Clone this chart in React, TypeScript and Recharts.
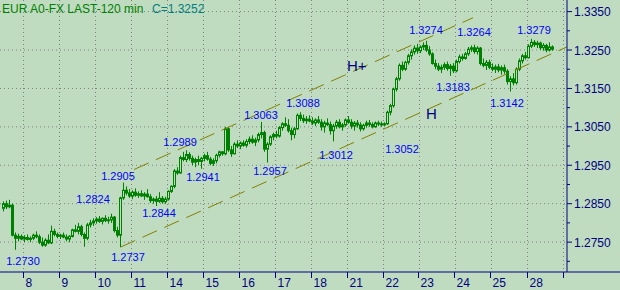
import React from "react";
import { ComposedChart, Bar, XAxis, YAxis, CartesianGrid, ReferenceLine, ReferenceDot } from "recharts";

// EUR 120-minute bars (7 bars before day 8, then 12 per day)
const OPEN = [
  1.2838, 1.2850, 1.2842, 1.2846, 1.2768, 1.2760, 1.2765,
  1.2758, 1.2762, 1.2757, 1.2760, 1.2768, 1.2764, 1.2750, 1.2742, 1.2755, 1.2748, 1.2778, 1.2770,
  1.2765, 1.2768, 1.2763, 1.2758, 1.2765, 1.2782, 1.2778, 1.2790, 1.2770, 1.2760, 1.2795, 1.2800,
  1.2805, 1.2810, 1.2804, 1.2812, 1.2806, 1.2808, 1.2815, 1.2780, 1.2768, 1.2865, 1.2885, 1.2878,
  1.2870, 1.2880, 1.2872, 1.2876, 1.2870, 1.2875, 1.2868, 1.2858, 1.2862, 1.2856, 1.2864, 1.2855,
  1.2862, 1.2882, 1.2895, 1.2935, 1.2930, 1.2970, 1.2965, 1.2978, 1.2968, 1.2958, 1.2965, 1.2960,
  1.2968, 1.2975, 1.2966, 1.2955, 1.2962, 1.2976, 1.2985, 1.2980, 1.3045, 1.2990, 1.2980, 1.3005,
  1.3000, 1.3008, 1.3002, 1.3012, 1.3018, 1.3010, 1.3016, 1.3030, 1.3035, 1.2992, 1.3005, 1.3024,
  1.3030, 1.3026, 1.3048, 1.3058, 1.3054, 1.3040, 1.3030, 1.3045, 1.3080, 1.3072, 1.3066, 1.3070,
  1.3065, 1.3060, 1.3068, 1.3062, 1.3050, 1.3060, 1.3056, 1.3040, 1.3052, 1.3062, 1.3050, 1.3055,
  1.3068, 1.3062, 1.3052, 1.3060, 1.3055, 1.3045, 1.3054, 1.3060, 1.3056, 1.3050, 1.3060, 1.3058,
  1.3055, 1.3058, 1.3088, 1.3105, 1.3148, 1.3175, 1.3210, 1.3200, 1.3218, 1.3235, 1.3245, 1.3255,
  1.3248, 1.3258, 1.3262, 1.3250, 1.3240, 1.3215, 1.3208, 1.3200, 1.3205, 1.3212, 1.3202, 1.3208,
  1.3196, 1.3220, 1.3232, 1.3228, 1.3240, 1.3252, 1.3256, 1.3246, 1.3255, 1.3215, 1.3210, 1.3218,
  1.3205, 1.3200, 1.3206, 1.3198, 1.3204, 1.3195, 1.3168, 1.3175, 1.3165, 1.3200, 1.3222, 1.3235,
  1.3230, 1.3260, 1.3270, 1.3264, 1.3268, 1.3256, 1.3262, 1.3250, 1.3258,
];
const HIGH = [
  1.2856, 1.2858, 1.2860, 1.2850, 1.2775, 1.2772, 1.2770,
  1.2768, 1.2770, 1.2765, 1.2772, 1.2778, 1.2770, 1.2762, 1.2760, 1.2770, 1.2793, 1.2785, 1.2775,
  1.2772, 1.2775, 1.2770, 1.2768, 1.2785, 1.2795, 1.2800, 1.2795, 1.2775, 1.2800, 1.2808, 1.2812,
  1.2815, 1.2818, 1.2814, 1.2820, 1.2816, 1.2824, 1.2818, 1.2790, 1.2868, 1.2905, 1.2895, 1.2888,
  1.2885, 1.2890, 1.2882, 1.2885, 1.2880, 1.2888, 1.2875, 1.2866, 1.2870, 1.2880, 1.2870, 1.2868,
  1.2885, 1.2898, 1.2940, 1.2945, 1.2975, 1.2985, 1.2989, 1.2984, 1.2975, 1.2970, 1.2975, 1.2972,
  1.2980, 1.2985, 1.2972, 1.2968, 1.2980, 1.2988, 1.2987, 1.3050, 1.3048, 1.3000, 1.3010, 1.3015,
  1.3012, 1.3015, 1.3018, 1.3025, 1.3028, 1.3022, 1.3035, 1.3063, 1.3040, 1.3010, 1.3028, 1.3035,
  1.3040, 1.3052, 1.3062, 1.3075, 1.3070, 1.3048, 1.3050, 1.3085, 1.3088, 1.3082, 1.3078, 1.3080,
  1.3075, 1.3072, 1.3078, 1.3070, 1.3066, 1.3072, 1.3064, 1.3058, 1.3068, 1.3070, 1.3060, 1.3072,
  1.3078, 1.3070, 1.3065, 1.3068, 1.3062, 1.3058, 1.3066, 1.3068, 1.3062, 1.3064, 1.3066, 1.3064,
  1.3062, 1.3092, 1.3110, 1.3152, 1.3180, 1.3215, 1.3220, 1.3222, 1.3240, 1.3252, 1.3262, 1.3266,
  1.3262, 1.3270, 1.3274, 1.3260, 1.3244, 1.3225, 1.3216, 1.3212, 1.3218, 1.3220, 1.3214, 1.3216,
  1.3225, 1.3238, 1.3240, 1.3245, 1.3258, 1.3262, 1.3264, 1.3260, 1.3258, 1.3228, 1.3224, 1.3225,
  1.3215, 1.3212, 1.3214, 1.3210, 1.3212, 1.3200, 1.3182, 1.3190, 1.3205, 1.3228, 1.3240, 1.3245,
  1.3265, 1.3279, 1.3276, 1.3274, 1.3272, 1.3268, 1.3266, 1.3270, 1.3262,
];
const LOW = [
  1.2830, 1.2836, 1.2838, 1.2765, 1.2730, 1.2752, 1.2755,
  1.2750, 1.2754, 1.2750, 1.2755, 1.2760, 1.2745, 1.2738, 1.2738, 1.2745, 1.2745, 1.2765, 1.2760,
  1.2758, 1.2760, 1.2752, 1.2750, 1.2762, 1.2775, 1.2770, 1.2765, 1.2738, 1.2755, 1.2788, 1.2792,
  1.2798, 1.2800, 1.2796, 1.2802, 1.2798, 1.2800, 1.2775, 1.2762, 1.2737, 1.2860, 1.2872, 1.2865,
  1.2862, 1.2868, 1.2865, 1.2868, 1.2860, 1.2866, 1.2852, 1.2850, 1.2844, 1.2852, 1.2850, 1.2850,
  1.2858, 1.2878, 1.2890, 1.2925, 1.2928, 1.2960, 1.2958, 1.2962, 1.2950, 1.2945, 1.2950, 1.2941,
  1.2960, 1.2962, 1.2950, 1.2948, 1.2955, 1.2970, 1.2975, 1.2976, 1.2985, 1.2972, 1.2978, 1.2995,
  1.2992, 1.2998, 1.2996, 1.3005, 1.3006, 1.3000, 1.3010, 1.3020, 1.2985, 1.2957, 1.3000, 1.3015,
  1.3020, 1.3022, 1.3040, 1.3050, 1.3035, 1.3015, 1.3020, 1.3042, 1.3065, 1.3060, 1.3058, 1.3062,
  1.3055, 1.3052, 1.3058, 1.3040, 1.3035, 1.3052, 1.3030, 1.3012, 1.3045, 1.3046, 1.3040, 1.3050,
  1.3058, 1.3045, 1.3040, 1.3048, 1.3038, 1.3040, 1.3048, 1.3050, 1.3046, 1.3048, 1.3052, 1.3050,
  1.3052, 1.3055, 1.3080, 1.3100, 1.3142, 1.3170, 1.3195, 1.3196, 1.3212, 1.3225, 1.3238, 1.3240,
  1.3242, 1.3250, 1.3245, 1.3235, 1.3212, 1.3200, 1.3195, 1.3190, 1.3198, 1.3196, 1.3183, 1.3190,
  1.3192, 1.3215, 1.3222, 1.3225, 1.3235, 1.3245, 1.3240, 1.3238, 1.3210, 1.3205, 1.3198, 1.3200,
  1.3195, 1.3190, 1.3192, 1.3186, 1.3188, 1.3160, 1.3142, 1.3158, 1.3160, 1.3195, 1.3215, 1.3225,
  1.3228, 1.3255, 1.3258, 1.3255, 1.3250, 1.3248, 1.3244, 1.3246, 1.3248,
];
const CLOSE = [
  1.2850, 1.2842, 1.2846, 1.2768, 1.2760, 1.2765, 1.2758,
  1.2762, 1.2757, 1.2760, 1.2768, 1.2764, 1.2750, 1.2742, 1.2755, 1.2748, 1.2778, 1.2770, 1.2765,
  1.2768, 1.2763, 1.2758, 1.2765, 1.2782, 1.2778, 1.2790, 1.2770, 1.2760, 1.2795, 1.2800, 1.2805,
  1.2810, 1.2804, 1.2812, 1.2806, 1.2808, 1.2815, 1.2780, 1.2768, 1.2865, 1.2885, 1.2878, 1.2870,
  1.2880, 1.2872, 1.2876, 1.2870, 1.2875, 1.2868, 1.2858, 1.2862, 1.2856, 1.2864, 1.2855, 1.2862,
  1.2882, 1.2895, 1.2935, 1.2930, 1.2970, 1.2965, 1.2978, 1.2968, 1.2958, 1.2965, 1.2960, 1.2968,
  1.2975, 1.2966, 1.2955, 1.2962, 1.2976, 1.2985, 1.2980, 1.3045, 1.2990, 1.2980, 1.3005, 1.3000,
  1.3008, 1.3002, 1.3012, 1.3018, 1.3010, 1.3016, 1.3030, 1.3035, 1.2992, 1.3005, 1.3024, 1.3030,
  1.3026, 1.3048, 1.3058, 1.3054, 1.3040, 1.3030, 1.3045, 1.3080, 1.3072, 1.3066, 1.3070, 1.3065,
  1.3060, 1.3068, 1.3062, 1.3050, 1.3060, 1.3056, 1.3040, 1.3052, 1.3062, 1.3050, 1.3055, 1.3068,
  1.3062, 1.3052, 1.3060, 1.3055, 1.3045, 1.3054, 1.3060, 1.3056, 1.3050, 1.3060, 1.3058, 1.3055,
  1.3058, 1.3088, 1.3105, 1.3148, 1.3175, 1.3210, 1.3200, 1.3218, 1.3235, 1.3245, 1.3255, 1.3248,
  1.3258, 1.3262, 1.3250, 1.3240, 1.3215, 1.3208, 1.3200, 1.3205, 1.3212, 1.3202, 1.3208, 1.3196,
  1.3220, 1.3232, 1.3228, 1.3240, 1.3252, 1.3256, 1.3246, 1.3255, 1.3215, 1.3210, 1.3218, 1.3205,
  1.3200, 1.3206, 1.3198, 1.3204, 1.3195, 1.3168, 1.3175, 1.3165, 1.3200, 1.3222, 1.3235, 1.3230,
  1.3260, 1.3270, 1.3264, 1.3268, 1.3256, 1.3262, 1.3250, 1.3258, 1.3252,
];

const DAY_LABELS = ["8", "9", "10", "11", "14", "15", "16", "17", "18", "21", "22", "23", "24", "25", "28", ""];
const DAY_START_BAR = [7, 19, 31, 43, 55, 67, 79, 91, 103, 115, 127, 139, 151, 163, 175, 187];

const PRICE_TICKS = [1.27, 1.275, 1.28, 1.285, 1.29, 1.295, 1.3, 1.305, 1.31, 1.315, 1.32, 1.325, 1.33, 1.335];
const MAJOR_PRICES = [1.275, 1.285, 1.295, 1.305, 1.315, 1.325, 1.335];

// swing highs / lows marked on the chart
const SWING_BARS = [4, 39, 36, 40, 51, 61, 66, 86, 88, 99, 110, 127, 141, 157, 176, 149, 169];
const SWING_PRICES = [1.273, 1.2737, 1.2824, 1.2905, 1.2844, 1.2989, 1.2941, 1.3063, 1.2957, 1.3088, 1.3012, 1.3052, 1.3274, 1.3264, 1.3279, 1.3183, 1.3142];

// trend channel (bar index, price)
const CHANNEL_LOW = [{ x: 39, y: 1.2737 }, { x: 187.8, y: 1.3258 }];
const CHANNEL_HIGH = [{ x: 43.5, y: 1.2939 }, { x: 156.5, y: 1.3334 }];

// layout only: where each swing label sits relative to its point (px)
const LABEL_NUDGE = [
  [7.5, 11], [7.5, 10], [-18.5, -15], [-5.5, -7], [2.5, 7], [-6.5, -8], [1.5, 8], [-0.5, -6.5], [2.5, 8.5],
  [2.5, -9], [2.5, 14], [17.5, 23], [-0.5, -10.5], [-0.5, -13], [2.5, -8.6], [2.5, 11.3], [-3.5, 11.3],
];

const BG = "#c0dcc0";
const GREEN = "#008000";
const NAVY = "#000080";
const FONT = "'Liberation Sans', Arial, sans-serif";
const X_MIN = -7 / 6;
const X_MAX = X_MIN + 189;
const HALF_PX = 1 / 6;

const DAY_TICKS = DAY_START_BAR.map((b) => b - 0.5);
const rows = CLOSE.map((c, i) => ({ i, o: OPEN[i], h: HIGH[i], l: LOW[i], c }));

function Candle(props: any) {
  const { x, y, width, height, payload } = props;
  const top = Math.min(y, y + height);
  const bot = Math.max(y, y + height);
  const span = payload.h - payload.l || 1;
  const py = (p: number) => top + ((payload.h - p) / span) * (bot - top);
  const cx = Math.floor(x + width / 2) + 0.5;
  const yo = py(payload.o);
  const yc = py(payload.c);
  const up = payload.c >= payload.o;
  return (
    <g>
      <line x1={cx} x2={cx} y1={top} y2={bot} stroke={GREEN} />
      <rect x={cx - 1} y={Math.min(yo, yc)} width={2} height={Math.max(Math.abs(yc - yo), 1)} fill={up ? BG : GREEN} stroke={GREEN} />
    </g>
  );
}

function DayTick(props: any) {
  const { x, y, payload } = props;
  const k = DAY_TICKS.indexOf(payload.value);
  const px = Math.floor(x) + 0.5;
  return (
    <g>
      <line x1={px} x2={px} y1={y} y2={y + 6} stroke={NAVY} />
      <text x={px + 2} y={y + 15} fill={NAVY} fontSize={12} fontFamily={FONT}>
        {DAY_LABELS[k]}
      </text>
    </g>
  );
}

function PriceTick(props: any) {
  const { x, y, payload } = props;
  const v = payload.value;
  const major = MAJOR_PRICES.some((m) => Math.abs(m - v) < 1e-7);
  return (
    <g>
      <line x1={x} x2={x + (major ? 5 : 3)} y1={y} y2={y} stroke={NAVY} />
      {major && (
        <text x={x + 7} y={y + 4.5} fill={NAVY} fontSize={12} fontFamily={FONT}>
          {v.toFixed(4)}
        </text>
      )}
    </g>
  );
}

export default function App() {
  const last = CLOSE[CLOSE.length - 1];
  return (
    <div style={{ position: "absolute", left: 0, top: 0, width: 620, height: 290, background: BG, fontFamily: FONT }}>
      <ComposedChart width={620} height={290} data={rows} margin={{ top: 0, right: 0, bottom: 0, left: 0 }}>
        <CartesianGrid
          stroke="#808080"
          strokeDasharray="1 3"
          horizontalValues={MAJOR_PRICES}
          verticalValues={DAY_TICKS.map((t) => t + HALF_PX)}
        />
        <XAxis
          dataKey="i"
          type="number"
          domain={[X_MIN, X_MAX]}
          allowDataOverflow
          ticks={DAY_TICKS}
          interval={0}
          height={18}
          tickSize={0}
          tickMargin={0}
          tickLine={false}
          axisLine={{ stroke: NAVY }}
          tick={<DayTick />}
        />
        <YAxis
          orientation="right"
          type="number"
          domain={[1.26722, 1.33802]}
          allowDataOverflow
          ticks={PRICE_TICKS}
          interval={0}
          width={53}
          tickSize={0}
          tickMargin={0}
          tickLine={false}
          axisLine={{ stroke: NAVY }}
          tick={<PriceTick />}
        />
        <ReferenceLine segment={CHANNEL_LOW} stroke="#808000" strokeDasharray="16 8" />
        <ReferenceLine segment={CHANNEL_HIGH} stroke="#808000" strokeDasharray="16 8" />
        <Bar dataKey={(d: any) => [d.l, d.h]} barSize={3} shape={<Candle />} isAnimationActive={false} />
        {SWING_BARS.map((b, k) => (
          <ReferenceDot
            key={k}
            x={b}
            y={SWING_PRICES[k]}
            r={0}
            shape={(p: any) => (
              <text
                x={p.cx + LABEL_NUDGE[k][0]}
                y={p.cy + LABEL_NUDGE[k][1] + 4}
                textAnchor="middle"
                fill="#0000ff"
                fontSize={11}
                fontFamily={FONT}
              >
                {SWING_PRICES[k].toFixed(4)}
              </text>
            )}
          />
        ))}
      </ComposedChart>
      <svg width={620} height={290} style={{ position: "absolute", left: 0, top: 0, pointerEvents: "none" }}>
        <text x={2} y={13} fill={GREEN} fontSize={12} fontFamily={FONT}>
          EUR A0-FX LAST-120 min
        </text>
        <text x={152} y={13} fill="#008080" fontSize={12} fontFamily={FONT}>
          {`C=${last.toFixed(4)}`}
        </text>
        <text x={347} y={71} fill={NAVY} fontSize={15} fontFamily={FONT}>
          H+
        </text>
        <text x={426} y={119} fill={NAVY} fontSize={15} fontFamily={FONT}>
          H
        </text>
        <line x1={567} x2={620} y1={272} y2={272} stroke={NAVY} />
      </svg>
    </div>
  );
}
